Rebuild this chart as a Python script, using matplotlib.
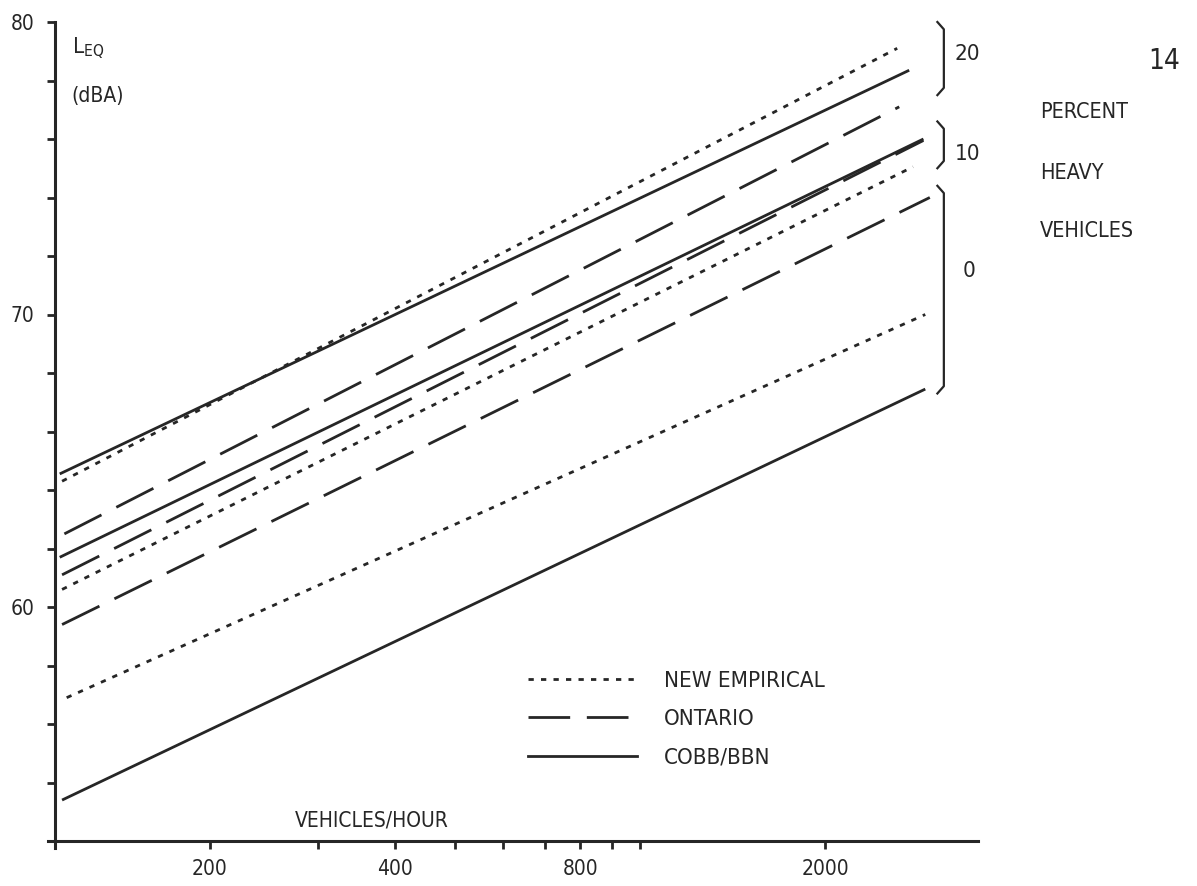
import matplotlib
matplotlib.use('Agg')
from matplotlib import pyplot as plt
from matplotlib import transforms
from matplotlib.lines import Line2D

# LEQ (dBA) vs traffic flow, three prediction models at 0/10/20 % heavy vehicles
model_names = ['NEW EMPIRICAL', 'ONTARIO', 'COBB/BBN']

line_model = ['NEW EMPIRICAL', 'COBB/BBN', 'ONTARIO',
              'COBB/BBN', 'ONTARIO', 'NEW EMPIRICAL',
              'ONTARIO', 'NEW EMPIRICAL', 'COBB/BBN']
line_pct = [20, 20, 20, 10, 10, 10, 0, 0, 0]
q_start = [115, 114, 116, 114, 115, 115, 115, 117, 115]
q_end = [2620, 2740, 2640, 2890, 2890, 2780, 2960, 2910, 2910]
leq_start = [64.3, 64.55, 62.5, 61.7, 61.1, 60.6, 59.4, 56.9, 53.4]
leq_end = [79.1, 78.35, 77.1, 76.0, 75.95, 75.05, 74.0, 70.0, 67.45]

# brackets grouping the lines by percent heavy vehicles
bracket_label = ['20', '10', '0']
bracket_top = [80.0, 76.6, 74.4]
bracket_bottom = [77.5, 75.0, 67.3]
bracket_label_y = [78.9, 75.5, 71.5]

x_ticks = [200, 300, 400, 500, 600, 700, 800, 900, 1000, 2000]
x_ticklabels = ['200', '', '400', '', '', '', '800', '', '', '2000']
y_ticks = list(range(52, 81, 2))
y_labelled = [60, 70, 80]

ink = '#262626'
styles = {
    'NEW EMPIRICAL': dict(dashes=(1.9, 2.6)),
    'ONTARIO': dict(dashes=(15, 6)),
    'COBB/BBN': dict(linestyle='-'),
}

plt.rcParams['font.family'] = ['DejaVu Sans']
plt.rcParams['font.stretch'] = 'condensed'

W, H = 1197, 886
fig = plt.figure(figsize=(W / 100, H / 100), dpi=100)
ax = fig.add_axes([55 / W, 45 / H, 923 / W, 819 / H])

for m, qs, qe, ls, le in zip(line_model, q_start, q_end, leq_start, leq_end):
    ax.plot([qs, qe], [ls, le], color=ink, lw=2.0, solid_capstyle='butt',
            dash_capstyle='butt', **styles[m])

ax.set_xscale('log')
ax.set_xlim(112, 3545)
ax.set_ylim(52, 80)

for s in ['top', 'right']:
    ax.spines[s].set_visible(False)
for s in ['left', 'bottom']:
    ax.spines[s].set_linewidth(2.2)
    ax.spines[s].set_color(ink)
ax.spines['left'].set_bounds(51.75, 80)
ax.spines['bottom'].set_bounds(109, 3545)

ax.set_xticks(x_ticks)
ax.set_xticklabels(x_ticklabels)
ax.xaxis.set_minor_locator(plt.NullLocator())
ax.set_yticks(y_ticks)
ax.set_yticklabels([str(v) if v in y_labelled else '' for v in y_ticks])
ax.tick_params(axis='both', direction='out', length=6, width=2, color=ink,
               labelcolor=ink, labelsize=15)
ax.tick_params(axis='x', pad=7)
ax.tick_params(axis='y', pad=9)

# brackets at the right end of the lines
btrans = transforms.blended_transform_factory(ax.transAxes, ax.transData)
for lab, top, bot, ly in zip(bracket_label, bracket_top, bracket_bottom, bracket_label_y):
    ax.plot([0.956, 0.963, 0.963, 0.956], [top, top - 0.25, bot + 0.25, bot],
            transform=btrans, color=ink, lw=1.6, clip_on=False)
    ax.text(0.975 if lab != '0' else 0.99, ly, lab, transform=btrans,
            ha='left' if lab != '0' else 'center', va='center', fontsize=16, color=ink)

# legend
handles = [Line2D([], [], color=ink, lw=2.0, **styles[m]) for m in model_names]
ax.legend(handles, model_names, loc='upper left', bbox_to_anchor=(528 / W, 1 - 671 / H),
          bbox_transform=fig.transFigure, frameon=False, fontsize=16,
          handlelength=4.9, handletextpad=1.2, labelspacing=0.82, borderpad=0,
          borderaxespad=0, labelcolor=ink)

def ftext(x, y, s, **kw):
    fig.text(x / W, 1 - y / H, s, color=ink, **kw)

ftext(72, 48, r'L$_{\mathregular{EQ}}$', fontsize=16, va='center')
ftext(71, 96, '(dBA)', fontsize=15, va='center')
ftext(295, 820, 'VEHICLES/HOUR', fontsize=15, va='center')
ftext(1148, 61, '14', fontsize=20, va='center')
ftext(1040, 112, 'PERCENT', fontsize=15.5, va='center')
ftext(1040, 173, 'HEAVY', fontsize=15.5, va='center')
ftext(1040, 231, 'VEHICLES', fontsize=15.5, va='center')

fig.savefig('out.png', dpi=100, facecolor='white')
